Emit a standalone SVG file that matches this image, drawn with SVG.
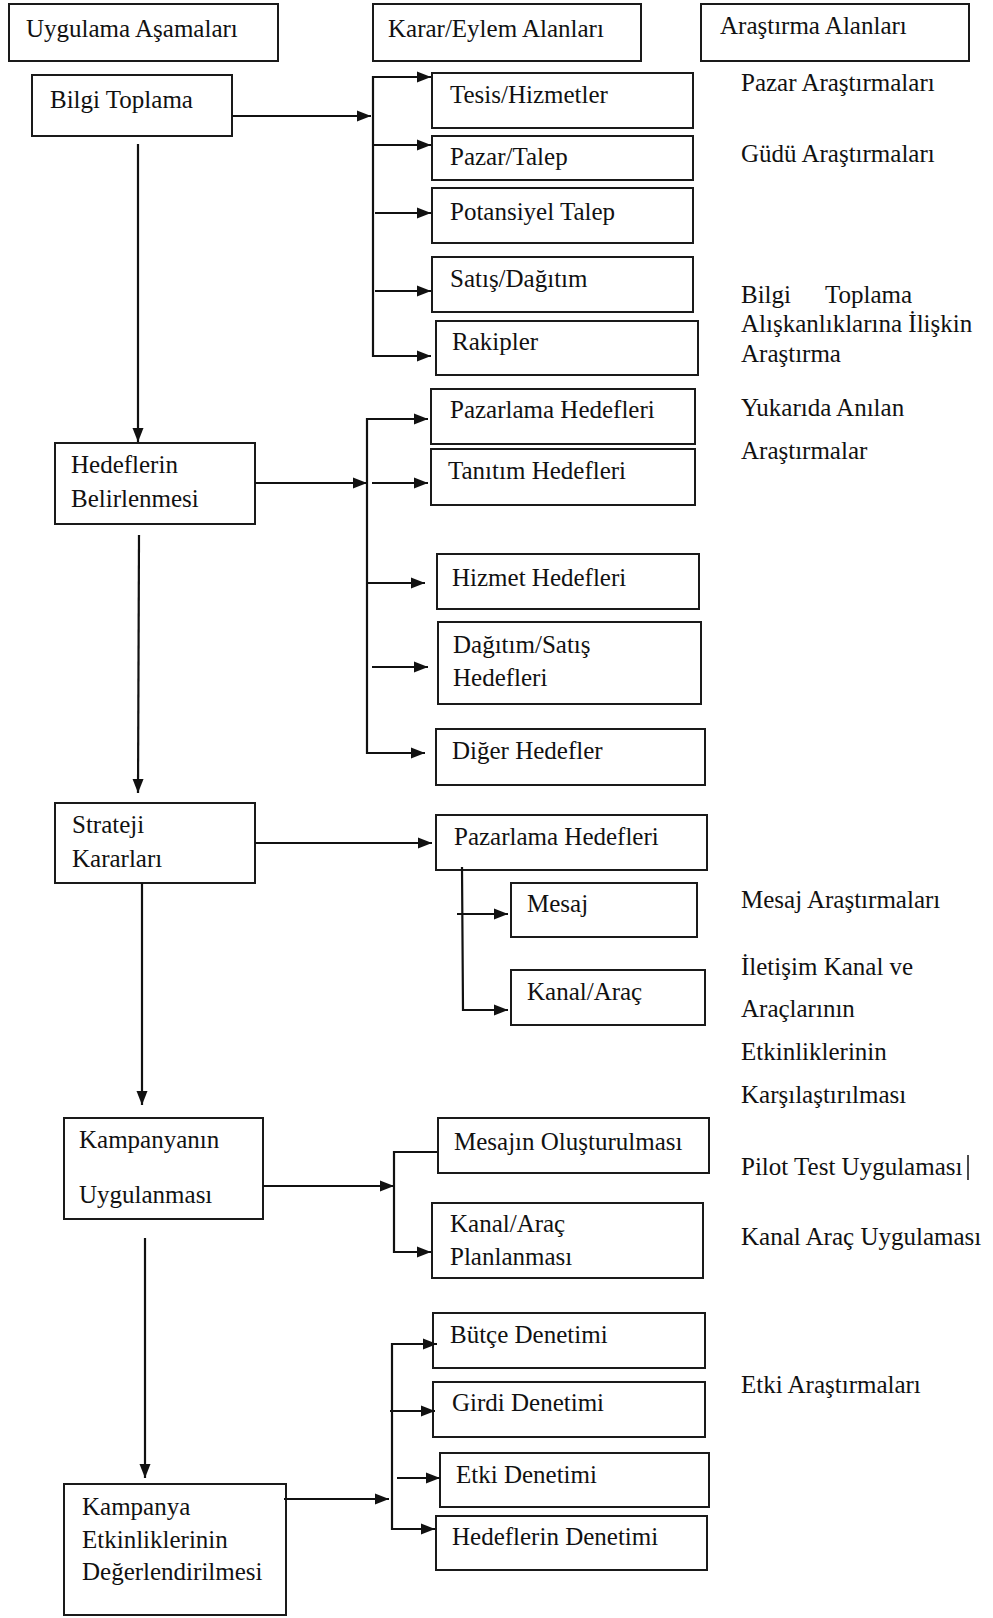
<svg xmlns="http://www.w3.org/2000/svg" width="993" height="1618" viewBox="0 0 993 1618">
  <style>
    rect.box { fill: #fff; stroke: #1a1a1a; stroke-width: 2; }
    text { font-family: "Liberation Serif", "Times New Roman", serif; font-size: 25px; fill: #111; }
    .conn line, .conn path { stroke: #111; stroke-width: 2.2; fill: none; }
    .arrow { marker-end: url(#ah); }
  </style>
  <defs>
    <marker id="ah" markerUnits="userSpaceOnUse" markerWidth="14" markerHeight="12" refX="14" refY="6" orient="auto">
      <path d="M0,0.5 L14,6 L0,11.5 z" fill="#111"/>
    </marker>
  </defs>
  <rect width="993" height="1618" fill="#fff"/>

  <!-- column headers -->
  <g id="hdr-stages"><rect class="box" x="9" y="4" width="269" height="57"/><text x="26" y="37">Uygulama Aşamaları</text></g>
  <g id="hdr-decisions"><rect class="box" x="373" y="4" width="268" height="57"/><text x="388" y="37">Karar/Eylem Alanları</text></g>
  <g id="hdr-research"><rect class="box" x="701" y="4" width="268" height="57"/><text x="720" y="34">Araştırma Alanları</text></g>

  <!-- stage nodes -->
  <g id="n-bilgi"><rect class="box" x="32" y="75" width="200" height="61"/><text x="50" y="108">Bilgi Toplama</text></g>
  <g id="n-hedef"><rect class="box" x="55" y="443" width="200" height="81"/><text x="71" y="473">Hedeflerin</text><text x="71" y="507">Belirlenmesi</text></g>
  <g id="n-strateji"><rect class="box" x="55" y="803" width="200" height="80"/><text x="72" y="833">Strateji</text><text x="72" y="867">Kararları</text></g>
  <g id="n-kampanya"><rect class="box" x="64" y="1118" width="199" height="101"/><text x="79" y="1148">Kampanyanın</text><text x="79" y="1203">Uygulanması</text></g>
  <g id="n-deger"><rect class="box" x="64" y="1484" width="222" height="131"/><text x="82" y="1515">Kampanya</text><text x="82" y="1548">Etkinliklerinin</text><text x="82" y="1580">Değerlendirilmesi</text></g>

  <!-- decision / action nodes -->
  <g id="d-tesis"><rect class="box" x="432" y="73" width="261" height="55"/><text x="450" y="103">Tesis/Hizmetler</text></g>
  <g id="d-pazar"><rect class="box" x="432" y="136" width="261" height="44"/><text x="450" y="165">Pazar/Talep</text></g>
  <g id="d-potansiyel"><rect class="box" x="432" y="188" width="261" height="55"/><text x="450" y="220">Potansiyel Talep</text></g>
  <g id="d-satis"><rect class="box" x="432" y="257" width="261" height="55"/><text x="450" y="287">Satış/Dağıtım</text></g>
  <g id="d-rakip"><rect class="box" x="436" y="321" width="262" height="54"/><text x="452" y="350">Rakipler</text></g>
  <g id="d-pazarlama"><rect class="box" x="431" y="389" width="264" height="55"/><text x="450" y="418">Pazarlama Hedefleri</text></g>
  <g id="d-tanitim"><rect class="box" x="431" y="449" width="264" height="56"/><text x="448" y="479">Tanıtım Hedefleri</text></g>
  <g id="d-hizmet"><rect class="box" x="437" y="554" width="262" height="55"/><text x="452" y="586">Hizmet Hedefleri</text></g>
  <g id="d-dagitim"><rect class="box" x="438" y="622" width="263" height="82"/><text x="453" y="653">Dağıtım/Satış</text><text x="453" y="686">Hedefleri</text></g>
  <g id="d-diger"><rect class="box" x="436" y="729" width="269" height="56"/><text x="452" y="759">Diğer Hedefler</text></g>
  <g id="d-pazarlama2"><rect class="box" x="436" y="815" width="271" height="55"/><text x="454" y="845">Pazarlama Hedefleri</text></g>
  <g id="d-mesaj"><rect class="box" x="511" y="883" width="186" height="54"/><text x="527" y="912">Mesaj</text></g>
  <g id="d-kanal"><rect class="box" x="511" y="970" width="194" height="55"/><text x="527" y="1000">Kanal/Araç</text></g>
  <g id="d-mesajin"><rect class="box" x="438" y="1118" width="271" height="55"/><text x="454" y="1150">Mesajın Oluşturulması</text></g>
  <g id="d-kanalplan"><rect class="box" x="432" y="1203" width="271" height="75"/><text x="450" y="1232">Kanal/Araç</text><text x="450" y="1265">Planlanması</text></g>
  <g id="d-butce"><rect class="box" x="433" y="1313" width="272" height="55"/><text x="450" y="1343">Bütçe Denetimi</text></g>
  <g id="d-girdi"><rect class="box" x="433" y="1382" width="272" height="55"/><text x="452" y="1411">Girdi Denetimi</text></g>
  <g id="d-etki"><rect class="box" x="440" y="1453" width="269" height="54"/><text x="456" y="1483">Etki Denetimi</text></g>
  <g id="d-hedefden"><rect class="box" x="436" y="1516" width="271" height="54"/><text x="452" y="1545">Hedeflerin Denetimi</text></g>

  <!-- research areas -->
  <g id="r-texts">
    <text x="741" y="91">Pazar Araştırmaları</text>
    <text x="741" y="162">Güdü Araştırmaları</text>
    <text x="741" y="303">Bilgi</text><text x="825" y="303">Toplama</text>
    <text x="741" y="332">Alışkanlıklarına İlişkin</text>
    <text x="741" y="362">Araştırma</text>
    <text x="741" y="416">Yukarıda Anılan</text>
    <text x="741" y="459">Araştırmalar</text>
    <text x="741" y="908">Mesaj Araştırmaları</text>
    <text x="741" y="975">İletişim Kanal ve</text>
    <text x="741" y="1017">Araçlarının</text>
    <text x="741" y="1060">Etkinliklerinin</text>
    <text x="741" y="1103">Karşılaştırılması</text>
    <text x="741" y="1175">Pilot Test Uygulaması</text>
    <line x1="968" y1="1155" x2="968" y2="1180" stroke="#111" stroke-width="1.5"/>
    <text x="741" y="1245">Kanal Araç Uygulaması</text>
    <text x="741" y="1393">Etki Araştırmaları</text>
  </g>

  <!-- connectors -->
  <g id="connectors" class="conn">
    <!-- Bilgi Toplama -->
    <line class="arrow" x1="232" y1="116" x2="371" y2="116"/>
    <line x1="373" y1="76" x2="373" y2="357"/>
    <line class="arrow" x1="373" y1="77" x2="431" y2="77"/>
    <line class="arrow" x1="373" y1="145" x2="431" y2="145"/>
    <line class="arrow" x1="375" y1="213" x2="431" y2="213"/>
    <line class="arrow" x1="375" y1="291" x2="431" y2="291"/>
    <line class="arrow" x1="373" y1="356" x2="431" y2="356"/>
    <line class="arrow" x1="138" y1="144" x2="138" y2="442"/>

    <!-- Hedeflerin Belirlenmesi -->
    <line class="arrow" x1="255" y1="483" x2="367" y2="483"/>
    <line x1="367" y1="418" x2="367" y2="754"/>
    <line class="arrow" x1="367" y1="419" x2="428" y2="419"/>
    <line class="arrow" x1="372" y1="483" x2="428" y2="483"/>
    <line class="arrow" x1="367" y1="583" x2="425" y2="583"/>
    <line class="arrow" x1="372" y1="667" x2="428" y2="667"/>
    <line class="arrow" x1="367" y1="753" x2="425" y2="753"/>
    <line class="arrow" x1="139" y1="535" x2="138" y2="793"/>

    <!-- Strateji Kararları -->
    <line class="arrow" x1="255" y1="843" x2="432" y2="843"/>
    <path class="arrow" d="M462,867 L463,1010 H508"/>
    <line class="arrow" x1="457" y1="914" x2="508" y2="914"/>
    <line class="arrow" x1="142" y1="883" x2="142" y2="1105"/>

    <!-- Kampanyanın Uygulanması -->
    <line class="arrow" x1="263" y1="1186" x2="394" y2="1186"/>
    <path class="arrow" d="M437,1152 H394 V1252 H431"/>
    <line class="arrow" x1="145" y1="1238" x2="145" y2="1478"/>

    <!-- Kampanya Etkinliklerinin Değerlendirilmesi -->
    <line class="arrow" x1="284" y1="1499" x2="389" y2="1499"/>
    <line x1="392" y1="1343" x2="392" y2="1530"/>
    <line class="arrow" x1="392" y1="1344" x2="437" y2="1344"/>
    <line class="arrow" x1="390" y1="1411" x2="435" y2="1411"/>
    <line class="arrow" x1="397" y1="1478" x2="440" y2="1478"/>
    <line class="arrow" x1="392" y1="1529" x2="435" y2="1529"/>
  </g>
</svg>
